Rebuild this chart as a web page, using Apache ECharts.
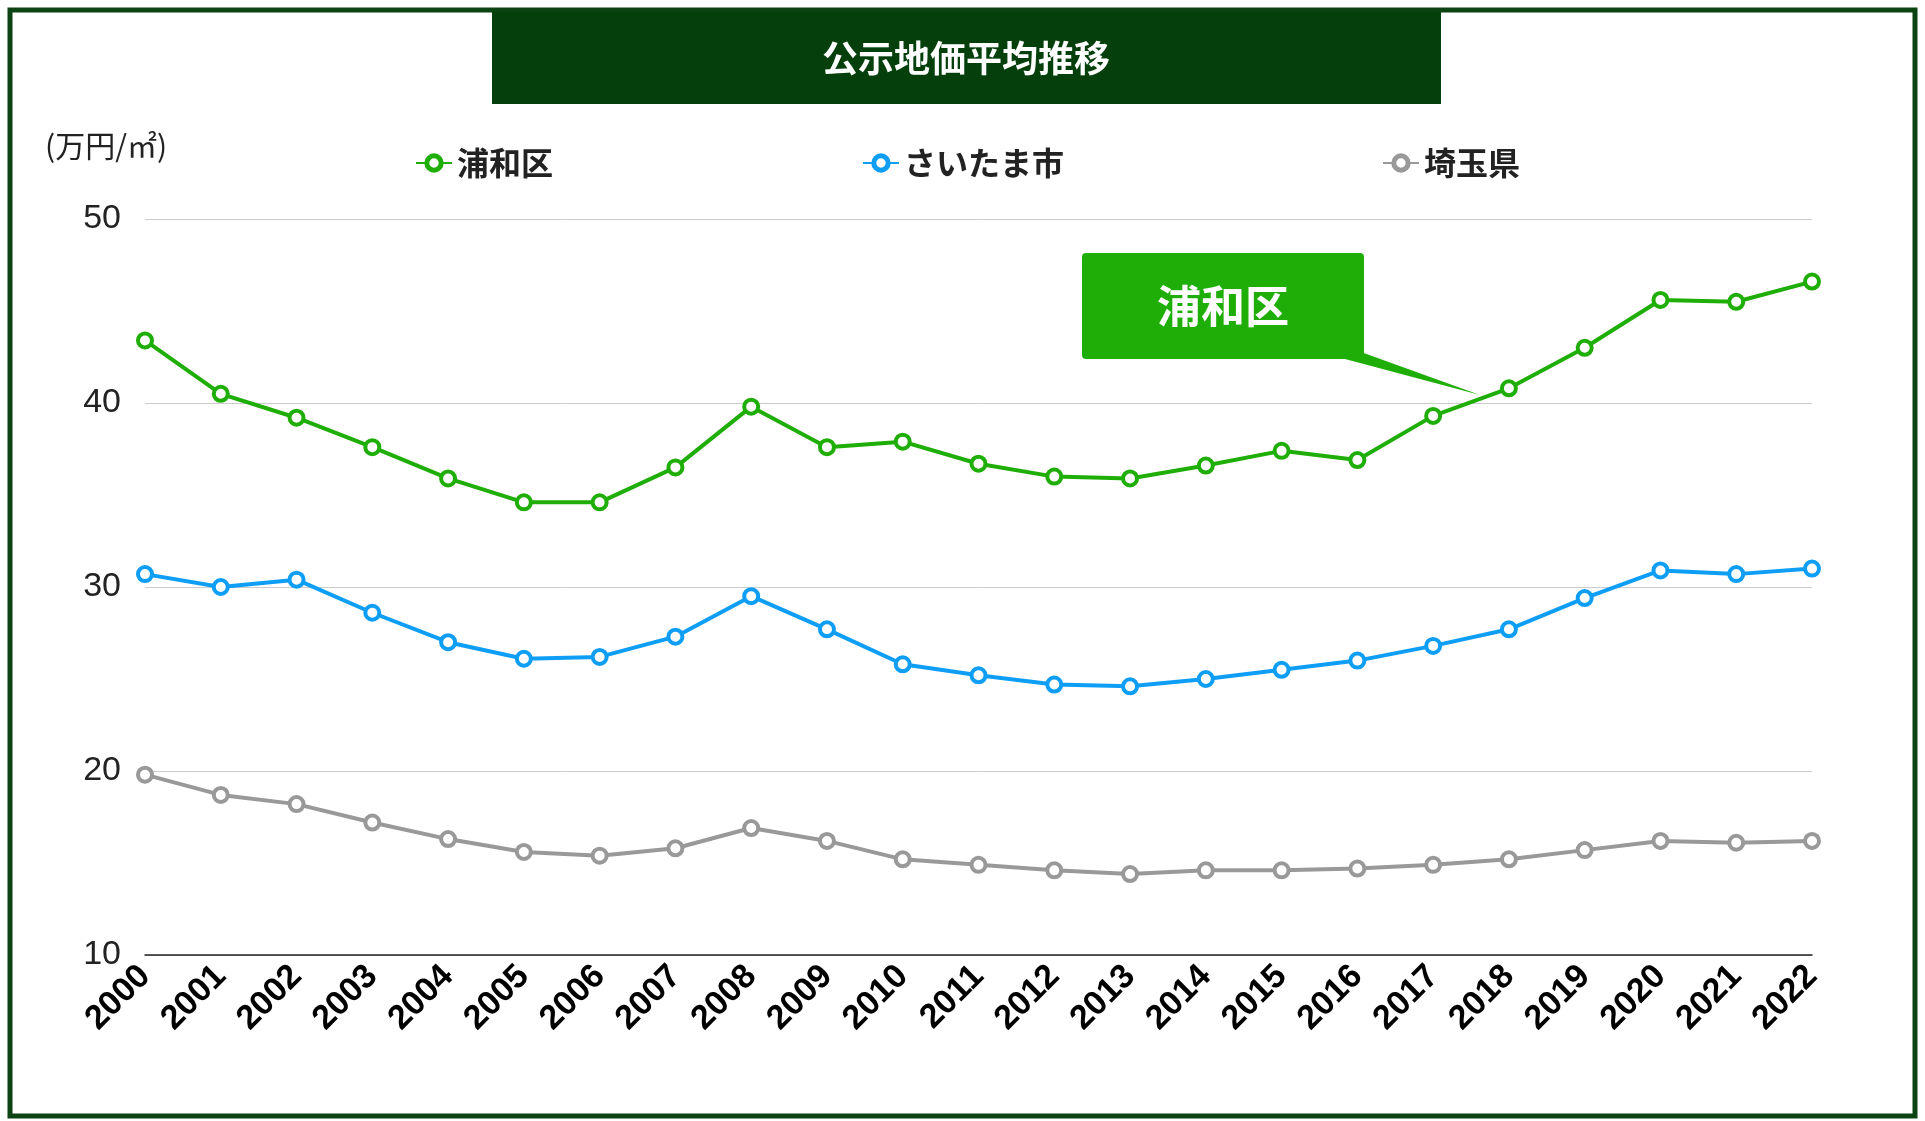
<!DOCTYPE html>
<html><head><meta charset="utf-8">
<script src="https://cdn.jsdelivr.net/npm/echarts@6/dist/echarts.min.js"></script>
<style>html,body{margin:0;padding:0;background:#fff}#main{width:1925px;height:1121px}</style>
</head><body><div id="main"></div>
<script>
var years = ['2000','2001','2002','2003','2004','2005','2006','2007','2008','2009','2010','2011','2012','2013','2014','2015','2016','2017','2018','2019','2020','2021','2022'];
var urawa = [43.4,40.5,39.2,37.6,35.9,34.6,34.6,36.5,39.8,37.6,37.9,36.7,36.0,35.9,36.6,37.4,36.9,39.3,40.8,43.0,45.6,45.5,46.6];
var saitamaCity = [30.7,30.0,30.4,28.6,27.0,26.1,26.2,27.3,29.5,27.7,25.8,25.2,24.7,24.6,25.0,25.5,26.0,26.8,27.7,29.4,30.9,30.7,31.0];
var saitamaPref = [19.8,18.7,18.2,17.2,16.3,15.6,15.4,15.8,16.9,16.2,15.2,14.9,14.6,14.4,14.6,14.6,14.7,14.9,15.2,15.7,16.2,16.1,16.2];
var names = ['浦和区','さいたま市','埼玉県'];
var colors = ['#1fae07','#0f9ef5','#999999'];

var myChart = echarts.init(document.getElementById('main'));

function mkSeries(name, data, color){
    return {
        name: name, type: 'line', data: data,
        symbol: 'circle', symbolSize: 14,
        lineStyle: {color: color, width: 4},
        itemStyle: {color: '#fff', borderColor: color, borderWidth: 4},
        emphasis: {disabled: true}
    };
}

var option = {
    animation: false,
    textStyle: {fontFamily: 'Noto Sans CJK JP'},
    graphic: [
        // 外枠
        {type: 'rect', shape: {x: 10, y: 10, width: 1905, height: 1106}, style: {fill: 'none', stroke: '#0b4313', lineWidth: 5}},
        // タイトル
        {type: 'rect', shape: {x: 492, y: 12, width: 949, height: 92}, style: {fill: '#05400c'}},
        {type: 'text', x: 966, y: 58, style: {text: '公示地価平均推移', fill: '#fff', font: 'bold 36px "Noto Sans CJK JP"', align: 'center', verticalAlign: 'middle'}},
        {type: 'text', x: 45, y: 146, style: {text: '(万円/㎡)', fill: '#222', font: '30px "Noto Sans CJK JP"', align: 'left', verticalAlign: 'middle'}},
        // 吹き出し
        {type: 'polygon', shape: {points: [[1300, 330], [1345, 359], [1480, 395]]}, style: {fill: '#1fae07'}},
        {type: 'rect', shape: {x: 1082, y: 253, width: 282, height: 106, r: 4}, style: {fill: '#1fae07'}},
        {type: 'text', x: 1223, y: 306, style: {text: '浦和区', fill: '#fff', font: 'bold 44px "Noto Sans CJK JP"', align: 'center', verticalAlign: 'middle'}}
    ],
    legend: [0, 1, 2].map(function(i){
        return {
            data: [names[i]], left: [410, 857, 1377][i], top: 142,
            itemWidth: 36, itemHeight: 18, itemGap: 20,
            itemStyle: {borderWidth: 5},
            textStyle: {fontSize: 32, fontWeight: 'bold', color: '#222'}
        };
    }),
    grid: {left: 145, right: 113, top: 219, bottom: 166},
    xAxis: {
        type: 'category', boundaryGap: false, data: years,
        axisLine: {lineStyle: {color: '#222', width: 1.5}},
        axisTick: {show: false},
        axisLabel: {rotate: 45, fontSize: 34, fontWeight: 'bold', color: '#000', margin: 16, fontFamily: 'Liberation Sans'}
    },
    yAxis: {
        type: 'value', min: 10, max: 50, interval: 10,
        axisLine: {show: false}, axisTick: {show: false},
        axisLabel: {fontSize: 34, color: '#222', margin: 24, fontFamily: 'Liberation Sans'},
        splitLine: {lineStyle: {color: '#cccccc', width: 1}}
    },
    series: [
        mkSeries(names[0], urawa, colors[0]),
        mkSeries(names[1], saitamaCity, colors[1]),
        mkSeries(names[2], saitamaPref, colors[2])
    ]
};
myChart.setOption(option);
</script></body></html>
